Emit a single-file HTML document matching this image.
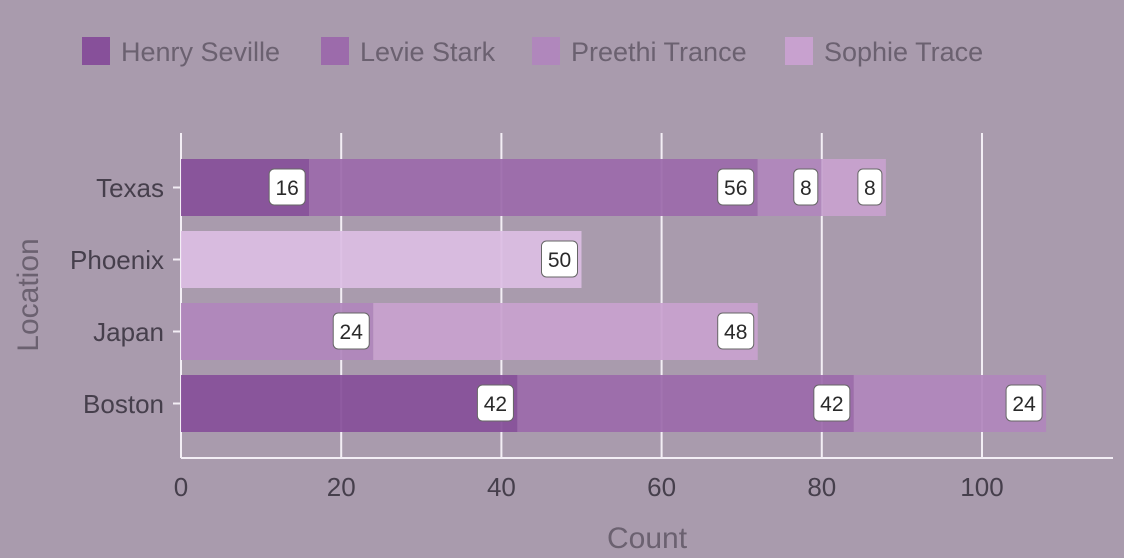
<!DOCTYPE html>
<html><head><meta charset="utf-8"><style>
body{margin:0;background:#a99bad;font-family:"Liberation Sans",sans-serif}
svg{display:block}
</style></head><body>
<svg width="1124" height="558" id="c"></svg>
<script>
const categories=["Texas","Phoenix","Japan","Boston"];
const seriesNames=["Henry Seville","Levie Stark","Preethi Trance","Sophie Trace"];
const texasValues=[16,56,8,8];
const phoenixValues=[0,0,0,50];
const japanValues=[0,0,24,48];
const bostonValues=[42,42,24,0];
const xTicks=[0,20,40,60,80,100];
const rows=[texasValues,phoenixValues,japanValues,bostonValues];
const colors=["#87509a","#9c6bab","#b087bc","#c8a1cf"];
const svg=document.getElementById('c');const NS="http://www.w3.org/2000/svg";
function mk(t,a,p){const e=document.createElementNS(NS,t);for(const k in a)e.setAttribute(k,a[k]);(p||svg).appendChild(e);return e;}
const x=v=>181+v*8.01;
const y=i=>159+i*72;
const lx=[82,321,532,785];
seriesNames.forEach((n,i)=>{
 const g=mk('g',{});
 
 
 mk('rect',{x:lx[i],y:37,width:28,height:28,fill:colors[i]},g);
 const t=mk('text',{x:lx[i]+39,y:61,'font-size':27,fill:'#6b6170'},g);t.textContent=n;
});
xTicks.forEach(v=>{
 const l=mk('line',{x1:x(v),x2:x(v),y1:133,y2:458,stroke:'#f3eef5','stroke-width':2});
 
 const t=mk('text',{x:x(v),y:496,'font-size':26,fill:'#463f4c','text-anchor':'middle'});t.textContent=v;
 
});
mk('line',{x1:181,x2:1113,y1:458,y2:458,stroke:'#f3eef5','stroke-width':2});
mk('line',{x1:181,x2:181,y1:133,y2:458,stroke:'#f3eef5','stroke-width':2});
rows.forEach((r,i)=>{
 let s=0;
 const t=mk('text',{x:164,y:y(i)+38,'font-size':26,fill:'#463f4c','text-anchor':'end'});t.textContent=categories[i];
 
 mk('line',{x1:173,x2:181,y1:y(i)+28.5,y2:y(i)+28.5,stroke:'#f3eef5','stroke-width':2});
 r.forEach((v,j)=>{
  if(!v)return;
  let col=colors[j];
  if(categories[i]==="Phoenix")col="#dbbde3";
  const b=mk('rect',{x:x(s),y:y(i),width:x(s+v)-x(s),height:57,fill:col,'fill-opacity':0.93});
  
  
  s+=v;
  const w=v>=10?36:24,ex=x(s);
  const lb=mk('rect',{x:ex-w-4,y:y(i)+10,width:w,height:36,rx:5,fill:'#fff',stroke:'#666','stroke-width':1});
  
  const tt=mk('text',{x:ex-w/2-4,y:y(i)+36,'font-size':21,fill:'#2a2a2a','text-anchor':'middle'});tt.textContent=v;
 });
});
const xt=mk('text',{x:647,y:548,'font-size':30,fill:'#6b6170','text-anchor':'middle'});xt.textContent="Count";

const yt=mk('text',{x:0,y:0,'font-size':30,fill:'#6b6170','text-anchor':'middle',transform:'translate(38,295) rotate(-90)'});yt.textContent="Location";

</script>
</body></html>
